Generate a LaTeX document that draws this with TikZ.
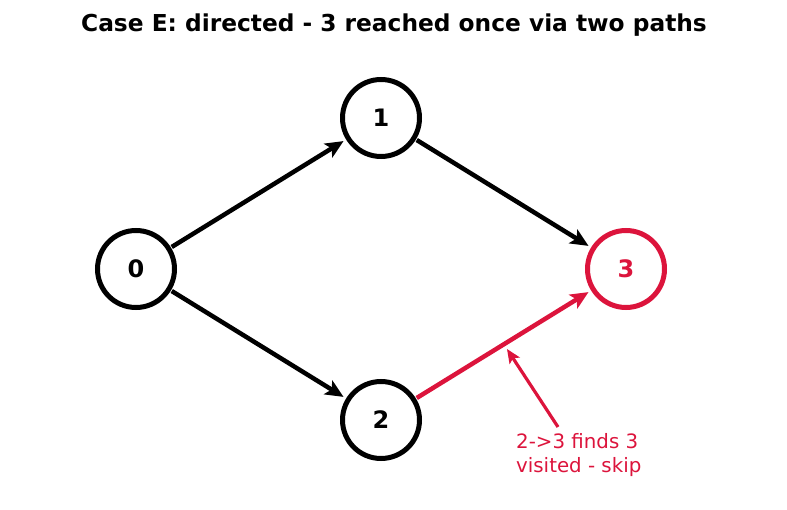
\documentclass[tikz,border=0pt]{standalone}
\usepackage{fontspec}
\setmainfont{DejaVu Sans}
\usetikzlibrary{arrows.meta}
\definecolor{visitRed}{HTML}{DC143C}

\begin{document}
\begin{tikzpicture}[
    x=1pt, y=-1pt,
    >={Stealth[length=18pt,width=16pt,inset=4pt]},
    vertex/.style={circle, draw=black, line width=5pt, fill=white, minimum size=77pt, inner sep=0pt, font=\fontsize{24}{28}\selectfont\bfseries},
    hot/.style={draw=visitRed, text=visitRed},
    edge/.style={->, line width=4.5pt, shorten >=3pt, shorten <=1pt}
  ]
    \useasboundingbox (0,0) rectangle (787,510);

    \node[font=\fontsize{23.3}{28}\selectfont\bfseries] (title) at (394,25) {Case E: directed - 3 reached once via two paths};

    \node[vertex] (v0) at (136,269) {0};
    \node[vertex] (v1) at (381,118) {1};
    \node[vertex] (v2) at (381,420) {2};
    \node[vertex, hot] (v3) at (626,269) {3};

    \draw[edge] (v0) -- (v1);
    \draw[edge] (v0) -- (v2);
    \draw[edge] (v1) -- (v3);
    \draw[edge, visitRed] (v2) -- (v3);

    % note on the skipped edge
    \node[anchor=north west, align=left, text=visitRed, inner sep=0pt,
      font=\fontsize{19.8}{24}\selectfont] (note) at (516,433) {2->3 finds 3\\visited - skip};
    \coordinate (tail) at (558,427);
    \coordinate (tip) at (507,349);
    \draw[->, visitRed, line width=3.2pt, >={Stealth[length=14pt,width=12pt,inset=3pt]}] (tail) -- (tip);
  \end{tikzpicture}
\end{document}
